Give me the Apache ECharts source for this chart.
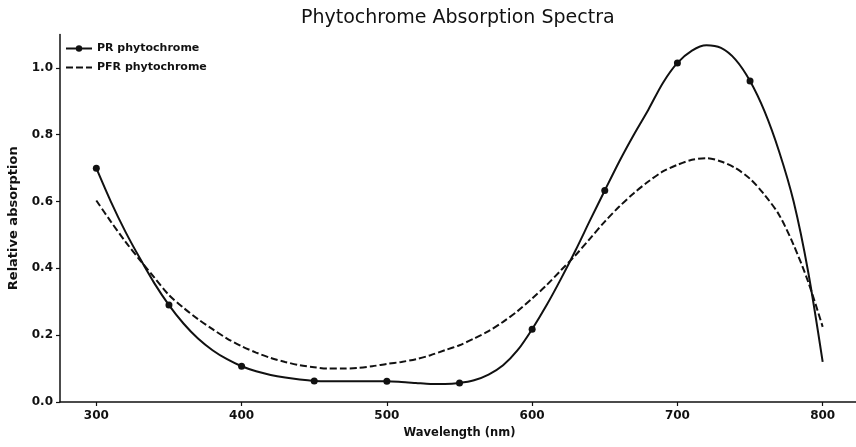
<!DOCTYPE html>
<html>
<head>
<meta charset="utf-8">
<script src="https://cdn.jsdelivr.net/npm/echarts@6/dist/echarts.min.js"></script>
<style>
  html, body { margin: 0; padding: 0; background: #fff; }
  #chart { width: 856px; height: 447px; }
</style>
</head>
<body>
<div id="chart"></div>
<script>
// 数据 (读图估算)
var wavelengths = [300, 310, 320, 330, 340, 350, 360, 370, 380, 390,
                   400, 410, 420, 430, 440, 450, 460, 470, 480, 490,
                   500, 510, 520, 530, 540, 550, 560, 570, 580, 590,
                   600, 610, 620, 630, 640, 650, 660, 670, 680, 690,
                   700, 710, 720, 730, 740, 750, 760, 770, 780, 790, 800];
var prValues = [0.70, 0.60, 0.51, 0.43, 0.355, 0.29, 0.235, 0.19, 0.155, 0.128,
                0.107, 0.092, 0.081, 0.073, 0.067, 0.063, 0.062, 0.062, 0.062, 0.062,
                0.062, 0.06, 0.057, 0.054, 0.054, 0.057, 0.065, 0.082, 0.11, 0.155,
                0.218, 0.29, 0.37, 0.455, 0.545, 0.633, 0.72, 0.80, 0.875, 0.955,
                1.015, 1.052, 1.068, 1.06, 1.025, 0.961, 0.87, 0.75, 0.60, 0.39, 0.12];
var pfrValues = [0.603, 0.54, 0.48, 0.425, 0.372, 0.32, 0.282, 0.248, 0.218, 0.19,
                 0.167, 0.148, 0.132, 0.12, 0.11, 0.104, 0.10, 0.10, 0.102, 0.107,
                 0.114, 0.12, 0.128, 0.14, 0.155, 0.17, 0.19, 0.212, 0.24, 0.272,
                 0.31, 0.35, 0.395, 0.44, 0.49, 0.54, 0.585, 0.625, 0.66, 0.69,
                 0.71, 0.725, 0.73, 0.72, 0.70, 0.668, 0.62, 0.56, 0.47, 0.36, 0.225];
var prMarkerAt = [300, 350, 400, 450, 500, 550, 600, 650, 700, 750];
var xTicks = [300, 400, 500, 600, 700, 800];
var yTicks = [0, 0.2, 0.4, 0.6, 0.8, 1.0];

var font = 'DejaVu Sans';
var ink = '#111';

// 只在部分点上画圆点
var prData = wavelengths.map(function (w, i) {
  var item = {value: [w, prValues[i]]};
  if (prMarkerAt.indexOf(w) < 0) item.symbol = 'none';
  return item;
});
var pfrData = wavelengths.map(function (w, i) {
  return [w, pfrValues[i]];
});

var chart = echarts.init(document.getElementById('chart'));
chart.setOption({
  backgroundColor: '#fff',
  animation: false,
  title: {
    text: 'Phytochrome Absorption Spectra',
    left: 296,
    top: 4,
    textStyle: {fontFamily: font, fontSize: 19, fontWeight: 'normal', color: ink}
  },
  legend: {
    orient: 'vertical',
    left: 60,
    top: 38,
    itemWidth: 26,
    itemHeight: 8,
    itemGap: 8,
    textStyle: {fontFamily: font, fontSize: 11, fontWeight: 'bold', color: ink},
    data: [
      'PR phytochrome',
      {name: 'PFR phytochrome', itemStyle: {opacity: 0}}
    ]
  },
  grid: {left: 60, top: 34.5, width: 799, height: 367.5, outerBoundsMode: 'none'},
  xAxis: {
    type: 'value',
    min: 275,
    max: 825,
    name: 'Wavelength (nm)',
    nameLocation: 'middle',
    nameGap: 24,
    nameTextStyle: {fontFamily: font, fontSize: 11.5, fontWeight: 'bold', color: ink, verticalAlign: 'top'},
    axisLine: {lineStyle: {color: ink, width: 1.5}},
    axisTick: {show: true, length: 4, lineStyle: {color: ink, width: 1.2}, customValues: xTicks},
    axisLabel: {fontFamily: font, fontSize: 12, fontWeight: 'bold', color: ink, margin: 8, customValues: xTicks},
    splitLine: {show: false}
  },
  yAxis: {
    type: 'value',
    min: 0,
    max: 1.1,
    name: 'Relative absorption',
    nameLocation: 'middle',
    nameGap: 40,
    nameRotate: 90,
    nameTextStyle: {fontFamily: font, fontSize: 13, fontWeight: 'bold', color: ink},
    axisLine: {show: true, lineStyle: {color: ink, width: 1.5}},
    axisTick: {show: true, length: 4, lineStyle: {color: ink, width: 1.2}, customValues: yTicks},
    axisLabel: {
      fontFamily: font, fontSize: 12, fontWeight: 'bold', color: ink, margin: 7, customValues: yTicks,
      formatter: function (v) { return v.toFixed(1); }
    },
    splitLine: {show: false}
  },
  series: [
    {
      name: 'PR phytochrome',
      type: 'line',
      smooth: 0.3,
      data: prData,
      symbol: 'circle',
      symbolSize: 7,
      showAllSymbol: true,
      itemStyle: {color: ink},
      lineStyle: {color: ink, width: 2}
    },
    {
      name: 'PFR phytochrome',
      type: 'line',
      smooth: 0.3,
      data: pfrData,
      symbol: 'none',
      itemStyle: {color: ink, opacity: 0},
      lineStyle: {color: ink, width: 2, type: [7, 3]}
    }
  ]
});
</script>
</body>
</html>
